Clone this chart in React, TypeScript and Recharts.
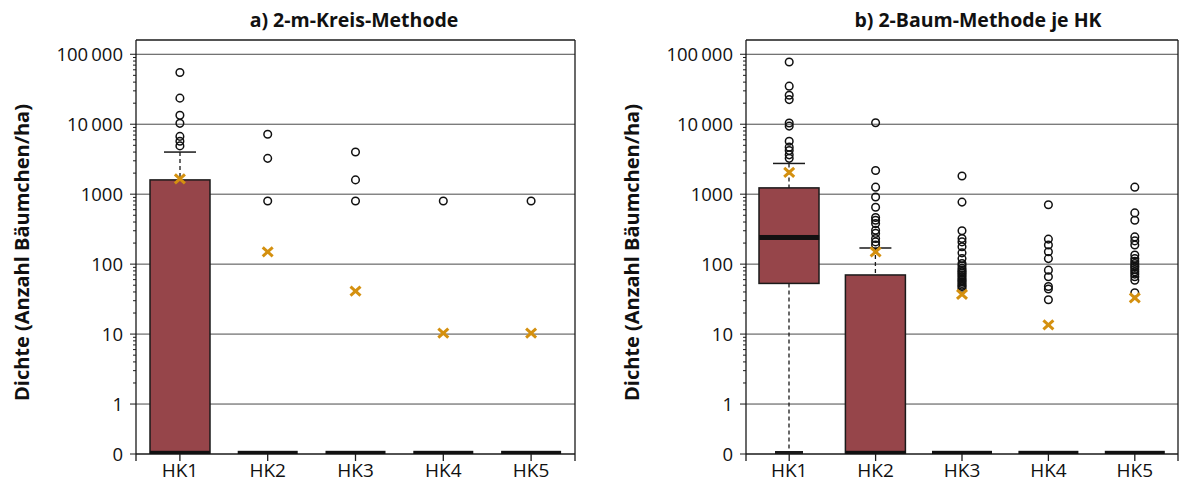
import React from "react";
import { ComposedChart, Bar, Scatter, XAxis, YAxis, CartesianGrid, ReferenceLine } from "recharts";

// Categories (Höhenklassen)
const CATEGORIES = ["HK1", "HK2", "HK3", "HK4", "HK5"];
const Y_TICKS = [0, 1, 10, 100, 1000, 10000, 100000];
const Y_TOP = 160000;

// a) 2-m-Kreis-Methode
const A_Q1 = [0, 0, 0, 0, 0];
const A_MEDIAN = [0, 0, 0, 0, 0];
const A_Q3 = [1600, 0, 0, 0, 0];
const A_WHISKER_LOW = [0, 0, 0, 0, 0];
const A_WHISKER_HIGH = [4000, 0, 0, 0, 0];
const A_MEAN = [1650, 150, 41, 10.3, 10.3];
const A_OUTLIERS = [
  [55000, 23600, 13400, 10300, 6700, 5700, 4900],
  [7200, 3250, 800],
  [4000, 1600, 800],
  [800],
  [800],
];

// b) 2-Baum-Methode je HK
const B_Q1 = [53, 0, 0, 0, 0];
const B_MEDIAN = [235, 0, 0, 0, 0];
const B_Q3 = [1230, 70, 0, 0, 0];
const B_WHISKER_LOW = [0, 0, 0, 0, 0];
const B_WHISKER_HIGH = [2750, 170, 0, 0, 0];
const B_MEAN = [2050, 150, 37, 13.5, 33];
const B_OUTLIERS = [
  [77600, 35000, 26000, 22500, 10400, 9400, 5700, 4700, 4200, 3650, 3250],
  [10500, 2180, 1260, 910, 650, 465, 425, 380, 305, 275, 233, 208, 187],
  [1820, 770, 300, 233, 208, 177, 145, 120, 102, 95, 87, 82, 78, 74, 70, 66, 62, 59, 56, 53, 50, 48, 45],
  [705, 228, 188, 150, 120, 82, 66, 48, 44, 31],
  [1260, 540, 425, 245, 215, 188, 135, 120, 110, 102, 95, 90, 84, 78, 72, 66, 59, 39],
];

const BOX_COLOR = "#96454a";
const MEAN_COLOR = "#d4900f";
const LINE = "#1a1a1a";
const FONT = "'Open Sans', 'Noto Sans', sans-serif";
const BOX_W = 60;
const CAP_W = 32;

// log axis with "0" placed 5/7 decade below 1
const ZERO_POS = -5 / 7;
const T = (v: number) => (v <= 0 ? ZERO_POS : Math.log10(v));

const fmt = (v: number) => {
  if (v >= 10000) return String(v).replace(/(\d)(?=(\d{3})+$)/g, "$1\u2009");
  return String(v);
};

const MAJOR = Y_TICKS.map(T);
const MINOR: number[] = [];
for (let d = 0; d < 5; d++) for (let m = 2; m <= 9; m++) MINOR.push(T(m * Math.pow(10, d)));

function YTick(props: any) {
  const { x, y, payload } = props;
  const v = payload.value as number;
  const idx = MAJOR.findIndex((m) => Math.abs(m - v) < 1e-6);
  const ax = x + 9;
  const len = idx >= 0 ? 6 : 3;
  return (
    <g>
      <line x1={ax - len} x2={ax} y1={y} y2={y} stroke={LINE} strokeWidth={1} />
      {idx >= 0 && (
        <text x={ax - 13} y={y} dy="0.36em" textAnchor="end" fontSize={18.5} fill="#111" fontFamily={FONT}>
          {fmt(Y_TICKS[idx])}
        </text>
      )}
    </g>
  );
}

const BoxShape = (p: any) => (
  <rect x={p.x} y={p.y} width={p.width} height={Math.max(p.height, 0)} fill={BOX_COLOR} stroke={LINE} strokeWidth={1.5} />
);

const WhiskerShape = (top: boolean) => (p: any) => {
  if (!p.height || p.height < 0.5) return <g />;
  const cx = p.x + p.width / 2;
  const capY = top ? p.y : p.y + p.height - 1.5;
  return (
    <g>
      <line x1={cx} x2={cx} y1={p.y} y2={p.y + p.height} stroke={LINE} strokeWidth={1.3} strokeDasharray="4 3" />
      <line x1={p.x} x2={p.x + p.width} y1={capY} y2={capY} stroke={LINE} strokeWidth={top ? 1.5 : 3} />
    </g>
  );
};

const MedianShape = (p: any) => <rect x={p.cx - BOX_W / 2} y={p.cy - 3.2} width={BOX_W} height={5} fill="#111" />;
const OutlierShape = (p: any) => <circle cx={p.cx} cy={p.cy} r={3.8} fill="none" stroke="#111" strokeWidth={1.5} />;
const MeanShape = (p: any) => (
  <g stroke={MEAN_COLOR} strokeWidth={3}>
    <line x1={p.cx - 5} y1={p.cy - 4.5} x2={p.cx + 5} y2={p.cy + 4.5} />
    <line x1={p.cx - 5} y1={p.cy + 4.5} x2={p.cx + 5} y2={p.cy - 4.5} />
  </g>
);

interface PanelProps {
  q1: number[];
  median: number[];
  q3: number[];
  whLow: number[];
  whHigh: number[];
  mean: number[];
  outliers: number[][];
  width: number;
  margin: { top: number; right: number; bottom: number; left: number };
}

function Panel({ q1, median, q3, whLow, whHigh, mean, outliers, width, margin }: PanelProps) {
  const rows = CATEGORIES.map((c, i) => ({
    x: i + 1,
    box: [T(q1[i]), T(q3[i])],
    up: [T(q3[i]), T(whHigh[i])],
    low: [T(whLow[i]), T(q1[i])],
  }));
  const medianPts = CATEGORIES.map((c, i) => ({ x: i + 1, y: T(median[i]) }));
  const meanPts = CATEGORIES.map((c, i) => ({ x: i + 1, y: T(mean[i]) }));
  const outPts = outliers.flatMap((list, i) => list.map((v) => ({ x: i + 1, y: T(v) })));
  const xDomain = [0.5, 5.5];
  const yDomain = [ZERO_POS, T(Y_TOP)];

  return (
    <ComposedChart width={width} height={493} data={rows} margin={margin}>
      <CartesianGrid xAxisId="main" horizontal vertical={false} horizontalValues={MAJOR.slice(1)} stroke="#4a4a4a" strokeWidth={1} fill="none" />
      <XAxis
        xAxisId="main"
        dataKey="x"
        type="number"
        domain={xDomain}
        ticks={[0.5, 1, 2, 3, 4, 5, 5.5]}
        interval={0}
        tickFormatter={(v: number) => (Number.isInteger(v) ? CATEGORIES[v - 1] : "")}
        height={30}
        tickSize={7}
        tickMargin={3}
        axisLine={{ stroke: LINE, strokeWidth: 1.3 }}
        tickLine={{ stroke: LINE, strokeWidth: 1.3 }}
        tick={{ fontSize: 19, fill: "#111", fontFamily: FONT }}
        allowDataOverflow
      />
      <XAxis xAxisId="up" orientation="top" dataKey="x" type="number" domain={xDomain} hide allowDataOverflow />
      <XAxis xAxisId="low" orientation="top" dataKey="x" type="number" domain={xDomain} hide allowDataOverflow />
      <YAxis
        type="number"
        domain={yDomain}
        ticks={[...MAJOR, ...MINOR]}
        interval={0}
        width={80}
        tickSize={6}
        tickMargin={3}
        tickLine={false}
        tick={<YTick />}
        axisLine={{ stroke: LINE, strokeWidth: 1.3 }}
        allowDataOverflow
      />
      <ReferenceLine xAxisId="main" y={T(Y_TOP)} stroke={LINE} strokeWidth={1.3} />
      <ReferenceLine xAxisId="main" x={5.5} stroke={LINE} strokeWidth={1.3} />
      <Bar xAxisId="main" dataKey="box" barSize={BOX_W} shape={BoxShape} isAnimationActive={false} />
      <Bar xAxisId="up" dataKey="up" barSize={CAP_W} shape={WhiskerShape(true)} isAnimationActive={false} />
      <Bar xAxisId="low" dataKey="low" barSize={CAP_W - 4} shape={WhiskerShape(false)} isAnimationActive={false} />
      <Scatter xAxisId="main" data={medianPts} dataKey="y" shape={MedianShape} isAnimationActive={false} />
      <Scatter xAxisId="main" data={outPts} dataKey="y" shape={OutlierShape} isAnimationActive={false} />
      <Scatter xAxisId="main" data={meanPts} dataKey="y" shape={MeanShape} isAnimationActive={false} />
    </ComposedChart>
  );
}

const titleStyle: React.CSSProperties = {
  position: "absolute",
  top: 6,
  fontSize: 19.5,
  fontWeight: 700,
  fontFamily: FONT,
  color: "#111",
  textAlign: "center",
  whiteSpace: "nowrap",
};

const yLabelStyle: React.CSSProperties = {
  position: "absolute",
  top: 239,
  width: 400,
  textAlign: "center",
  fontSize: 20,
  fontWeight: 700,
  fontFamily: FONT,
  color: "#111",
  transform: "rotate(-90deg)",
  whiteSpace: "nowrap",
};

export default function App() {
  return (
    <div style={{ position: "absolute", left: 0, top: 0, width: 1189, height: 493, background: "#fff", overflow: "hidden" }}>
      <div style={{ position: "absolute", left: 0, top: 0 }}>
        <Panel
          q1={A_Q1}
          median={A_MEDIAN}
          q3={A_Q3}
          whLow={A_WHISKER_LOW}
          whHigh={A_WHISKER_HIGH}
          mean={A_MEAN}
          outliers={A_OUTLIERS}
          width={590}
          margin={{ top: 40, right: 15, bottom: 9, left: 56 }}
        />
      </div>
      <div style={{ position: "absolute", left: 600, top: 0 }}>
        <Panel
          q1={B_Q1}
          median={B_MEDIAN}
          q3={B_Q3}
          whLow={B_WHISKER_LOW}
          whHigh={B_WHISKER_HIGH}
          mean={B_MEAN}
          outliers={B_OUTLIERS}
          width={589}
          margin={{ top: 40, right: 11, bottom: 9, left: 66 }}
        />
      </div>
      <div style={{ ...titleStyle, left: 154, width: 400 }}>a) 2-m-Kreis-Methode</div>
      <div style={{ ...titleStyle, left: 778, width: 400 }}>b) 2-Baum-Methode je HK</div>
      <div style={{ ...yLabelStyle, left: 21 - 200 }}>Dichte (Anzahl Bäumchen/ha)</div>
      <div style={{ ...yLabelStyle, left: 631 - 200 }}>Dichte (Anzahl Bäumchen/ha)</div>
    </div>
  );
}
